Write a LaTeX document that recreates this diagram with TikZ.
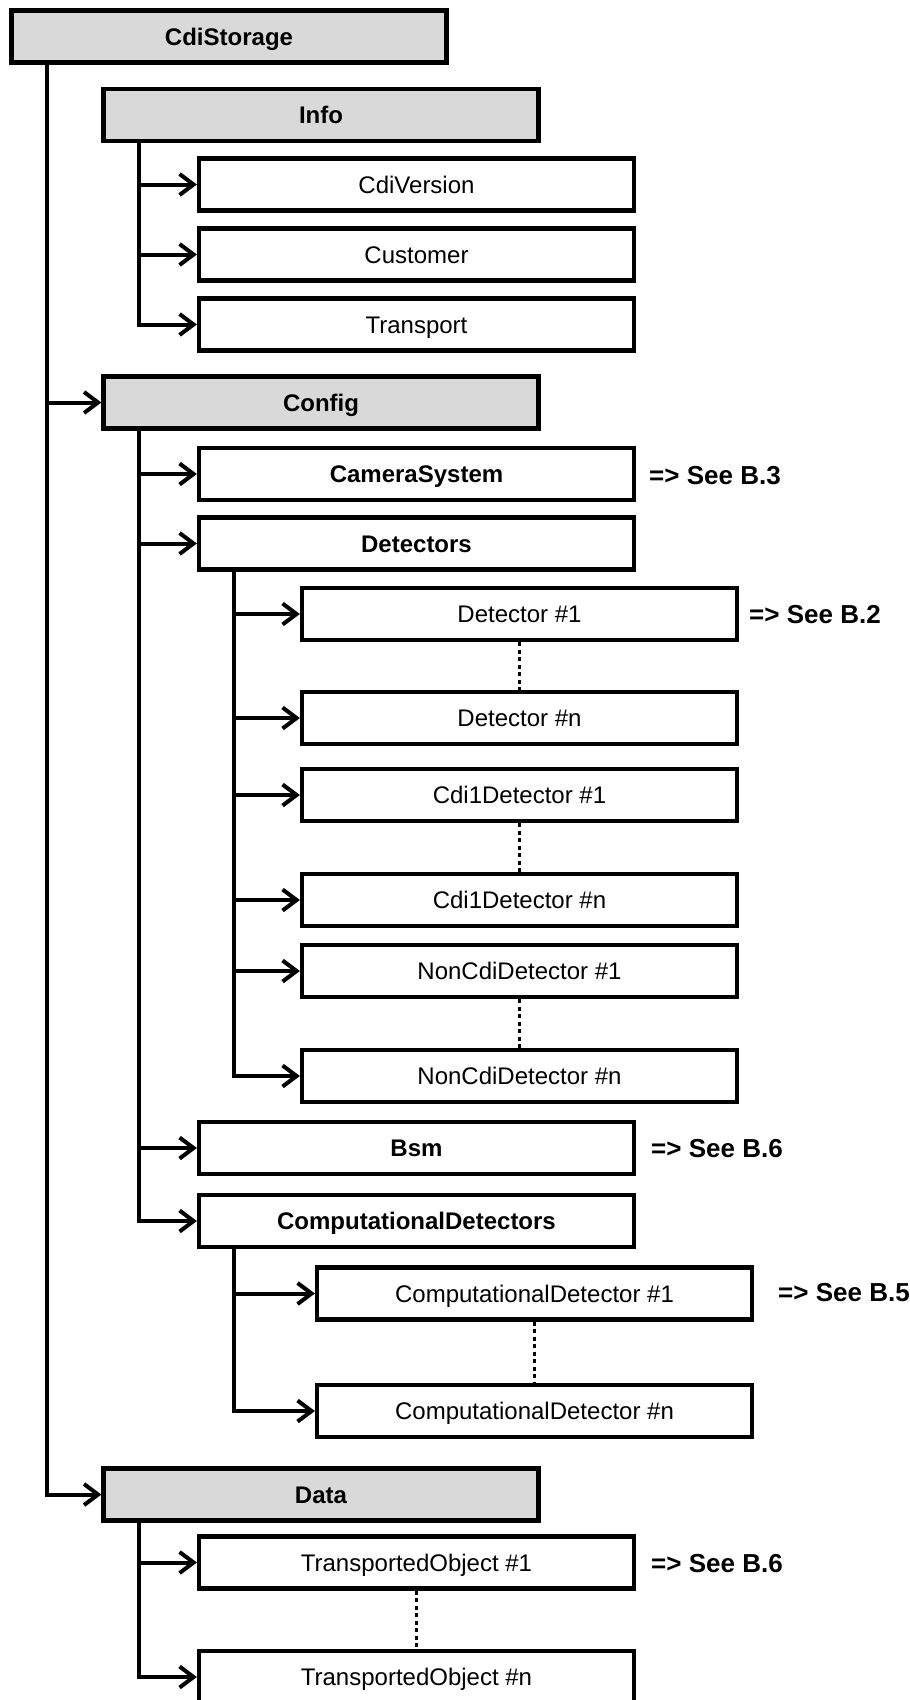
\documentclass[tikz,border=0pt]{standalone}
\usepackage{fontspec}
\setmainfont{Liberation Sans}
\usetikzlibrary{arrows.meta}
\definecolor{boxgrey}{RGB}{217,217,217}
\begin{document}
\begin{tikzpicture}[x=1pt,y=-1pt,
  box/.style={draw, line width=4.2pt, minimum width=435pt, minimum height=52pt,
    inner sep=0pt, text height=17pt, text depth=0pt, font=\fontsize{24}{28}\selectfont},
  grp/.style={box, fill=boxgrey, font=\fontsize{24}{28}\selectfont\bfseries},
  leaf/.style={box, fill=white},
  bleaf/.style={box, fill=white, font=\fontsize{24}{28}\selectfont\bfseries},
  see/.style={anchor=west, inner sep=0pt, text height=18.5pt, text depth=0pt,
    font=\fontsize{26}{30}\selectfont\bfseries},
  conn/.style={line width=4pt},
  arr/.style={conn, -{Straight Barb[length=14pt,width=21pt,line join=miter,line cap=butt]}},
  dots/.style={line width=3.5pt, dash pattern=on 4pt off 3.5pt}]
\path[use as bounding box, clip] (0,0) rectangle (910,1700);

% nodes
\node[grp]  (cdi)     at (229,36.5)   {CdiStorage};
\node[grp]  (info)    at (321,115)    {Info};
\node[leaf] (cdiver)  at (416.5,184.5){CdiVersion};
\node[leaf] (cust)    at (416.5,254.5){Customer};
\node[leaf] (trans)   at (416.5,324.5){Transport};
\node[grp]  (config)  at (321,402.5)  {Config};
\node[bleaf](camera)  at (416.5,474)  {CameraSystem};
\node[bleaf](dets)    at (416.5,543.5){Detectors};
\node[leaf] (det1)    at (519.5,614)  {Detector \#1};
\node[leaf] (detn)    at (519.5,718)  {Detector \#n};
\node[leaf] (cdione)  at (519.5,795)  {Cdi1Detector \#1};
\node[leaf] (cdin)    at (519.5,900)  {Cdi1Detector \#n};
\node[leaf] (non1)    at (519.5,971)  {NonCdiDetector \#1};
\node[leaf] (nonn)    at (519.5,1076) {NonCdiDetector \#n};
\node[bleaf](bsm)     at (416.5,1148) {Bsm};
\node[bleaf](cdets)   at (416.5,1221) {ComputationalDetectors};
\node[leaf] (cd1)     at (534.5,1293.5){ComputationalDetector \#1};
\node[leaf] (cdn)     at (534.5,1411) {ComputationalDetector \#n};
\node[grp]  (data)    at (321,1494.5) {Data};
\node[leaf] (to1)     at (416.5,1562.5){TransportedObject \#1};
\node[leaf] (ton)     at (416.5,1677) {TransportedObject \#n};

% references
\node[see] (s1) at (649,475)    {=> See B.3};
\node[see] (s2) at (749,614)    {=> See B.2};
\node[see] (s3) at (651,1148)   {=> See B.6};
\node[see] (s4) at (778,1292.5) {=> See B.5};
\node[see] (s5) at (651,1563)   {=> See B.6};

% trunk coordinates
\coordinate (tc) at ([xshift=37.5pt]cdi.south west);
\coordinate (ti) at ([xshift=37.5pt]info.south west);
\coordinate (tg) at ([xshift=37.5pt]config.south west);
\coordinate (td) at ([xshift=37.5pt]dets.south west);
\coordinate (tk) at ([xshift=37.5pt]cdets.south west);
\coordinate (ta) at ([xshift=37.5pt]data.south west);

% main trunk
\draw[arr] (tc) |- (data.west);
\draw[arr] (tc |- config.west) -- (config.west);

% info
\draw[arr] (ti) |- (trans.west);
\draw[arr] (ti |- cdiver.west) -- (cdiver.west);
\draw[arr] (ti |- cust.west) -- (cust.west);

% config
\draw[arr] (tg) |- (cdets.west);
\draw[arr] (tg |- camera.west) -- (camera.west);
\draw[arr] (tg |- dets.west) -- (dets.west);
\draw[arr] (tg |- bsm.west) -- (bsm.west);

% detectors
\draw[arr] (td) |- (nonn.west);
\draw[arr] (td |- det1.west) -- (det1.west);
\draw[arr] (td |- detn.west) -- (detn.west);
\draw[arr] (td |- cdione.west) -- (cdione.west);
\draw[arr] (td |- cdin.west) -- (cdin.west);
\draw[arr] (td |- non1.west) -- (non1.west);

% computational detectors
\draw[arr] (tk) |- (cdn.west);
\draw[arr] (tk |- cd1.west) -- (cd1.west);

% data
\draw[arr] (ta) |- (ton.west);
\draw[arr] (ta |- to1.west) -- (to1.west);

% dotted continuation lines
\draw[dots] (det1.south) -- (detn.north);
\draw[dots] (cdione.south) -- (cdin.north);
\draw[dots] (non1.south) -- (nonn.north);
\draw[dots] (cd1.south) -- (cdn.north);
\draw[dots] (to1.south) -- (ton.north);
\end{tikzpicture}
\end{document}
